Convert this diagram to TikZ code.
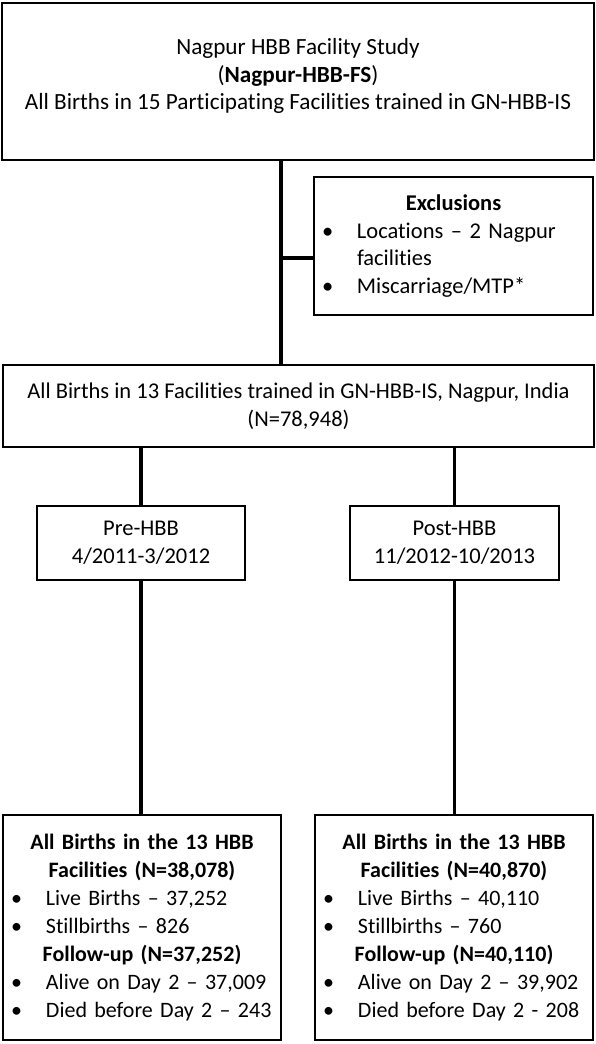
\documentclass[tikz,border=0pt]{standalone}
\usepackage{fontspec}
\setmainfont[Ligatures=NoCommon]{Carlito}
\usetikzlibrary{positioning}

\newcommand{\bullitem}[1]{\makebox[\linewidth][l]{\makebox[35pt][l]{\textbullet}#1}}
\newcommand{\bullcont}[1]{\makebox[\linewidth][l]{\hspace{35pt}#1}}

\begin{document}
\begin{tikzpicture}[
            x=1pt,
            y=-1pt,
            every node/.style={
                    rectangle,
                    draw=black,
                    line width=2.4pt,
                    align=center,
                    inner sep=0pt,
                    font=\fontsize{22.5}{27.8}\selectfont
                },
            listbox/.style={
                    inner xsep=8pt,
                    text width=262pt,
                    minimum height=225pt,
                    font=\fontsize{22}{28}\selectfont
                },
            periodbox/.style={
                    minimum width=208pt,
                    minimum height=74pt
                },
            link/.style={
                    draw=black,
                    line width=3.8pt
                }
        ]

        \useasboundingbox (0,0) rectangle (596,1044);

        \node[minimum width=592pt, minimum height=157pt, font=\fontsize{23.2}{27.8}\selectfont] (study) at (298,81.5)
            {\begin{tabular}{@{}c@{}}Nagpur HBB Facility Study\\(\textbf{Nagpur-HBB-FS})\\All Births in 15 Participating Facilities trained in GN-HBB-IS\\[10pt]\end{tabular}};
        \node[inner xsep=8pt, text width=263pt, minimum height=138pt] (excl) at (453.5,246)
            {\textbf{Exclusions}\\\bullitem{Locations – 2 Nagpur}\\\bullcont{facilities}\\\bullitem{Miscarriage/MTP*}};
        \node[minimum width=591pt, minimum height=82pt] (allb) at (298.5,406)
            {All Births in 13 Facilities trained in GN-HBB-IS, Nagpur, India\\(N=78,948)};
        \node[periodbox] (pre) at (141,543) {Pre-HBB\\4/2011-3/2012};
        \node[periodbox, minimum width=209pt] (post) at (454.5,543) {Post-HBB\\11/2012-10/2013};
        \node[listbox] (prebirths) at (142,927.5)
            {\textbf{All Births in the 13 HBB}\\\textbf{Facilities (N=38,078)}\\
             \bullitem{Live Births – 37,252}\\\bullitem{Stillbirths – 826}\\
             \textbf{Follow-up (N=37,252)}\\
             \bullitem{Alive on Day 2 – 37,009}\\\bullitem{Died before Day 2 – 243}};
        \node[listbox] (postbirths) at (454,927.5)
            {\textbf{All Births in the 13 HBB}\\\textbf{Facilities (N=40,870)}\\
             \bullitem{Live Births – 40,110}\\\bullitem{Stillbirths – 760}\\
             \textbf{Follow-up (N=40,110)}\\
             \bullitem{Alive on Day 2 – 39,902}\\\bullitem{Died before Day 2 - 208}};

        % connectors
        \coordinate (split) at (281,258);
        \draw[link] (study.south -| split) -- (allb.north -| split);
        \draw[link] (split) -- (excl.west |- split);
        \draw[link] (allb.south -| pre) -- (pre.north);
        \draw[link] (allb.south -| post) -- (post.north);
        \draw[link] (pre.south) -- (prebirths.north -| pre.south);
        \draw[link] (post.south) -- (postbirths.north -| post.south);

    \end{tikzpicture}
\end{document}
